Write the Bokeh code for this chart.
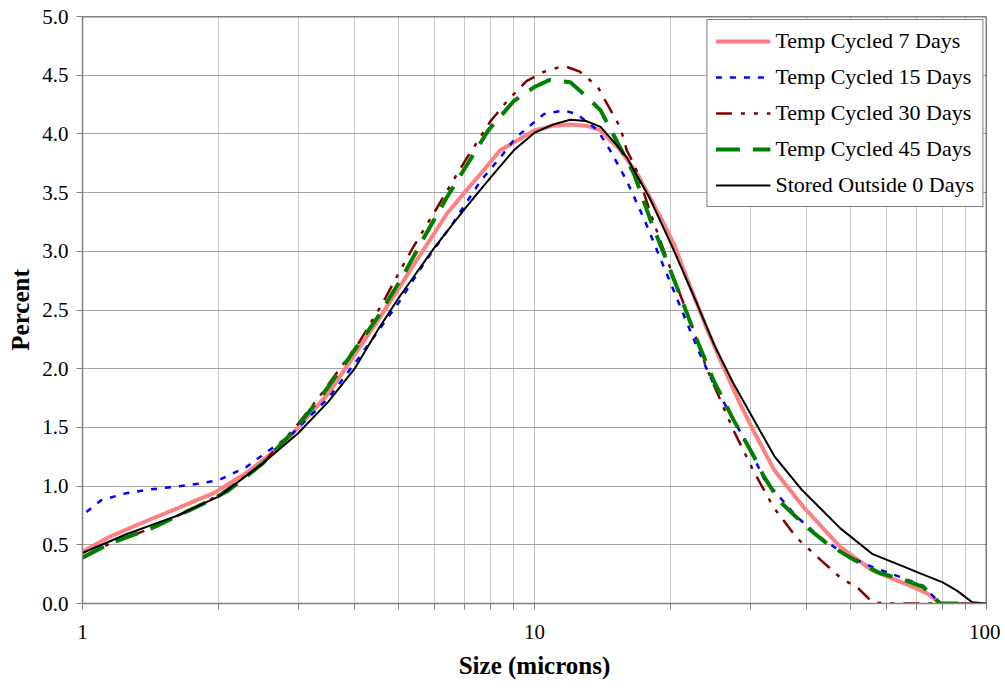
from bokeh.plotting import figure
from bokeh.models import (Range1d, FixedTicker, PrintfTickFormatter, Legend, LegendItem, Span)
from bokeh.embed import file_html
from bokeh.resources import INLINE

# ---- data ----
names = ["Temp Cycled 7 Days", "Temp Cycled 15 Days", "Temp Cycled 30 Days",
         "Temp Cycled 45 Days", "Stored Outside 0 Days"]

x_7 = [1.0, 1.15, 1.36, 1.62, 1.95, 2.3, 2.75, 3.0, 3.5, 4.0, 4.5, 5.0, 5.5, 6.4, 7.0, 7.6, 8.4,
       10.0, 11.0, 12.0, 13.0, 14.0, 15.5, 17.0, 19.0, 20.3, 22.0, 24.0, 26.2, 28.5, 31.0, 34.0,
       39.4, 47.5, 56.0, 66.0, 74.0, 79.0]
y_7 = [0.44, 0.57, 0.69, 0.81, 0.94, 1.11, 1.34, 1.50, 1.79, 2.12, 2.41, 2.68, 2.93, 3.32, 3.50,
       3.66, 3.86, 4.03, 4.07, 4.08, 4.07, 4.03, 3.86, 3.64, 3.29, 3.07, 2.72, 2.35, 2.01, 1.70,
       1.42, 1.13, 0.82, 0.48, 0.28, 0.17, 0.085, 0.0]

x_15 = [1.02, 1.1, 1.25, 1.4, 1.65, 1.8, 2.0, 2.3, 2.6, 2.9, 3.5, 4.1, 5.0, 5.7, 6.6, 7.6, 8.4,
        9.1, 10.5, 11.6, 12.4, 13.8, 14.7, 16.0, 17.5, 18.7, 20.3, 21.8, 23.2, 24.9, 27.6, 30.0,
        32.2, 38.0, 43.0, 49.0, 56.0, 65.0, 72.5, 79.0]
y_15 = [0.78, 0.88, 0.94, 0.97, 1.00, 1.02, 1.05, 1.16, 1.31, 1.44, 1.75, 2.10, 2.56, 2.90, 3.24,
        3.60, 3.80, 3.97, 4.17, 4.20, 4.17, 4.03, 3.86, 3.60, 3.27, 3.00, 2.67, 2.38, 2.13, 1.87,
        1.56, 1.31, 1.06, 0.74, 0.56, 0.41, 0.31, 0.22, 0.15, 0.0]

x_30 = [1.0, 1.15, 1.44, 1.65, 2.0, 2.5, 3.0, 3.4, 4.1, 4.6, 5.05, 5.4, 6.0, 6.6, 7.1, 8.0, 8.7,
        9.6, 10.5, 11.6, 12.6, 13.8, 14.7, 15.5, 16.0, 16.7, 18.3, 20.3, 22.1, 24.0, 26.2, 27.6,
        30.6, 33.8, 38.0, 43.0, 47.5, 52.0, 56.0, 60.0, 93.0]
y_30 = [0.40, 0.51, 0.65, 0.76, 0.92, 1.19, 1.53, 1.80, 2.23, 2.55, 2.84, 3.04, 3.33, 3.60, 3.80,
        4.11, 4.28, 4.45, 4.53, 4.58, 4.53, 4.40, 4.21, 4.05, 3.86, 3.72, 3.26, 2.78, 2.41, 2.01,
        1.67, 1.47, 1.12, 0.82, 0.56, 0.37, 0.22, 0.13, 0.01, 0.0, 0.0]

x_45 = [1.0, 1.15, 1.44, 1.65, 1.85, 2.1, 2.5, 2.95, 3.4, 3.9, 4.5, 5.1, 5.7, 6.4, 7.1, 7.9, 9.0,
        10.0, 10.8, 12.0, 13.1, 14.0, 15.2, 16.6, 18.0, 19.7, 21.5, 22.9, 24.9, 27.6, 30.6, 32.1,
        34.7, 40.0, 44.4, 51.0, 58.0, 66.0, 72.5, 79.0, 93.0]
y_45 = [0.39, 0.51, 0.65, 0.76, 0.85, 0.96, 1.19, 1.48, 1.78, 2.10, 2.44, 2.78, 3.12, 3.46, 3.74,
        4.03, 4.28, 4.40, 4.46, 4.44, 4.31, 4.20, 3.94, 3.66, 3.28, 2.90, 2.52, 2.24, 1.90, 1.56,
        1.25, 1.09, 0.88, 0.65, 0.51, 0.37, 0.26, 0.20, 0.14, 0.0, 0.0]

x_0 = [1.0, 1.25, 1.6, 2.0, 2.5, 3.0, 3.5, 4.0, 4.5, 5.0, 6.0, 7.0, 8.0, 9.0, 10.0, 11.0, 12.0,
       13.0, 14.0, 15.0, 16.0, 17.0, 18.0, 20.0, 22.5, 25.0, 27.5, 30.0, 34.0, 39.0, 47.5, 56.0,
       65.0, 72.0, 80.0, 86.0, 93.0, 100.0]
y_0 = [0.43, 0.59, 0.74, 0.91, 1.19, 1.45, 1.72, 2.00, 2.33, 2.60, 3.03, 3.36, 3.63, 3.86, 4.01,
       4.08, 4.12, 4.11, 4.06, 3.93, 3.80, 3.62, 3.45, 3.07, 2.62, 2.20, 1.88, 1.62, 1.25, 0.97,
       0.64, 0.42, 0.32, 0.25, 0.18, 0.11, 0.01, 0.0]

y_ticks = [0.0, 0.5, 1.0, 1.5, 2.0, 2.5, 3.0, 3.5, 4.0, 4.5, 5.0]
x_major = [1, 10, 100]
x_minor = [2, 3, 4, 5, 6, 7, 8, 9, 20, 30, 40, 50, 60, 70, 80, 90]

FONT = "Liberation Serif"

p = figure(frame_width=904, frame_height=587, x_axis_type="log",
           x_range=Range1d(1, 100), y_range=Range1d(0, 5),
           output_backend="svg", toolbar_location=None,
           min_border_left=82, min_border_top=16, min_border_right=14, min_border_bottom=84)
p.background_fill_color = "white"
p.border_fill_color = "white"
p.outline_line_color = None

# grid
p.xgrid.ticker = FixedTicker(ticks=x_major, minor_ticks=x_minor)
p.xgrid.grid_line_color = "#bdbdbd"
p.xgrid.minor_grid_line_color = "#c8c8c8"
p.ygrid.ticker = FixedTicker(ticks=y_ticks)
p.ygrid.grid_line_color = "#a3a3a3"

# axes
p.xaxis.ticker = FixedTicker(ticks=x_major, minor_ticks=x_minor)
p.xaxis.formatter = PrintfTickFormatter(format="%d")
p.yaxis.ticker = FixedTicker(ticks=y_ticks)
p.yaxis.formatter = PrintfTickFormatter(format="%.1f")
for ax in (p.xaxis[0], p.yaxis[0]):
    ax.axis_line_color = "#808080"
    ax.axis_line_width = 1.5
    ax.major_tick_line_color = "#808080"
    ax.minor_tick_line_color = "#808080"
    ax.major_tick_in = 0
    ax.minor_tick_in = 0
    ax.major_tick_out = 6
    ax.major_label_text_font = FONT
    ax.major_label_text_font_size = "21px"
    ax.major_label_text_color = "black"
    ax.axis_label_text_font = FONT
    ax.axis_label_text_font_size = "25px"
    ax.axis_label_text_font_style = "bold"
    ax.axis_label_text_color = "black"
p.xaxis.minor_tick_out = 6
p.yaxis.minor_tick_out = 0
p.xaxis.major_label_standoff = 15
p.yaxis.major_label_standoff = 8
p.xaxis.axis_label = "Size (microns)"
p.yaxis.axis_label = "Percent"
p.xaxis.axis_label_standoff = 10
p.yaxis.axis_label_standoff = 5

# top and right border of the plot area
p.add_layout(Span(location=5, dimension="width", line_color="black", line_width=1.5))
p.add_layout(Span(location=100, dimension="height", line_color="black", line_width=1.5))

r7 = p.line(x_7, y_7, line_color="#FF8080", line_width=4)
r15 = p.line(x_15, y_15, line_color="#0000FF", line_width=2.5, line_dash="6 8")
r30 = p.line(x_30, y_30, line_color="#800000", line_width=2.5, line_dash="16 9 4 9 4 9")
r45 = p.line(x_45, y_45, line_color="#008000", line_width=4, line_dash="24 13")
r0 = p.line(x_0, y_0, line_color="black", line_width=2)

legend = Legend(items=[LegendItem(label=n, renderers=[r]) for n, r in
                       zip(names, [r7, r15, r30, r45, r0])],
                location="top_right")
legend.label_text_font = FONT
legend.label_text_font_size = "22px"
legend.label_text_color = "black"
legend.glyph_width = 55
legend.glyph_height = 20
legend.label_height = 20
legend.label_standoff = 5
legend.spacing = 10
legend.padding = 8
legend.margin = 3
legend.border_line_color = "black"
legend.border_line_width = 1.5
legend.background_fill_color = "white"
legend.background_fill_alpha = 1.0
p.add_layout(legend)

open("out.html", "w").write(file_html(p, INLINE))
